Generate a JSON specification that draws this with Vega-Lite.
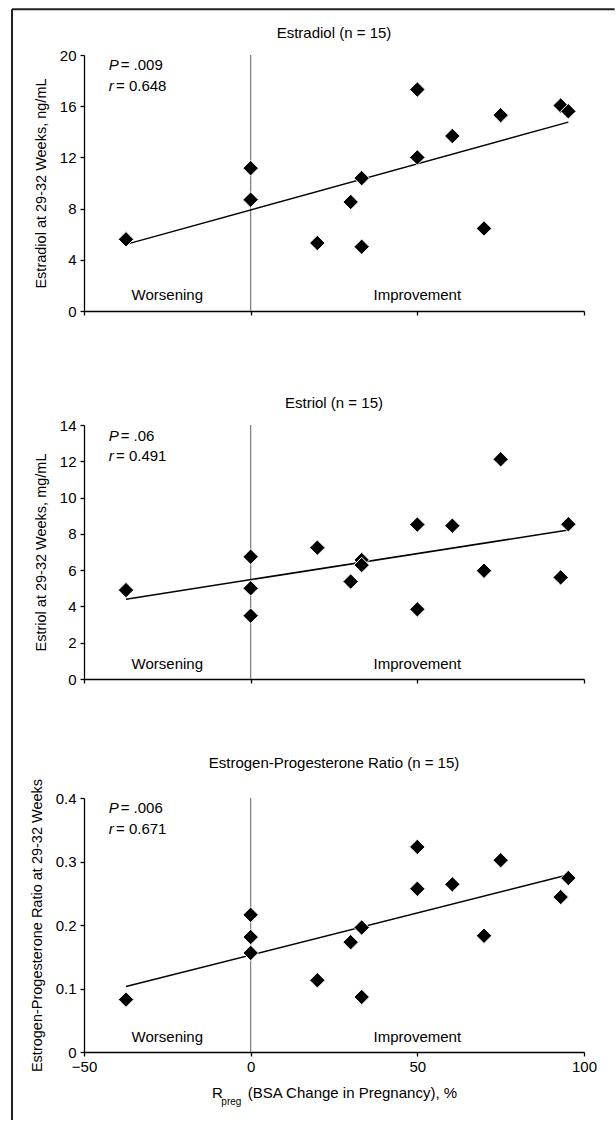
{
  "$schema": "https://vega.github.io/schema/vega-lite/v6.json",
  "background": "white",
  "padding": {"left": 11, "top": 8, "right": 0, "bottom": 0},
  "data": {"values": [
    {"rpreg": -37.4, "estradiol": 5.6, "estriol": 4.9, "ratio": 0.0825},
    {"rpreg": 0, "estradiol": 11.16, "estriol": 6.74, "ratio": 0.216},
    {"rpreg": 0, "estradiol": 8.63, "estriol": 5.0, "ratio": 0.181},
    {"rpreg": 0, "estradiol": 8.7, "estriol": 3.49, "ratio": 0.156},
    {"rpreg": 20, "estradiol": 5.31, "estriol": 7.24, "ratio": 0.113},
    {"rpreg": 30, "estradiol": 8.52, "estriol": 5.37, "ratio": 0.173},
    {"rpreg": 33.3, "estradiol": 10.38, "estriol": 6.56, "ratio": 0.196},
    {"rpreg": 33.3, "estradiol": 5.02, "estriol": 6.28, "ratio": 0.0866},
    {"rpreg": 50, "estradiol": 17.3, "estriol": 8.51, "ratio": 0.323},
    {"rpreg": 50, "estradiol": 12.0, "estriol": 3.84, "ratio": 0.257},
    {"rpreg": 60.5, "estradiol": 13.67, "estriol": 8.45, "ratio": 0.264},
    {"rpreg": 70, "estradiol": 6.45, "estriol": 5.97, "ratio": 0.183},
    {"rpreg": 75, "estradiol": 15.3, "estriol": 12.11, "ratio": 0.302},
    {"rpreg": 93, "estradiol": 16.05, "estriol": 5.6, "ratio": 0.244},
    {"rpreg": 95.3, "estradiol": 15.6, "estriol": 8.53, "ratio": 0.274}
  ]},
  "config": {
    "font": "Liberation Sans",
    "view": {"stroke": null},
    "axis": {
      "grid": false,
      "domainColor": "black", "domainWidth": 1.3,
      "tickColor": "black", "tickWidth": 1.3, "tickSize": 4,
      "labelColor": "black", "labelFont": "Liberation Sans", "labelFontSize": 15, "labelPadding": 4, "labelOverlap": false, "labelFlush": false,
      "titleColor": "black", "titleFont": "Liberation Sans", "titleFontSize": 14.5, "titleFontWeight": "normal", "titlePadding": 11
    },
    "title": {"fontSize": 15, "fontWeight": "normal", "color": "black", "font": "Liberation Sans", "baseline": "bottom", "offset": 7},
    "text": {"font": "Liberation Sans", "color": "black"}
  },
  "bounds": "flush",
  "spacing": 114,
  "vconcat": [
    {
      "width": 500, "height": 256,
      "layer": [
        {"mark": {"type": "rule", "color": "#222222", "strokeWidth": 2},
         "data": {"values": [{}]},
         "encoding": {"x": {"datum": -71.6, "type": "quantitative"}, "y": {"datum": 23.57, "type": "quantitative"}, "y2": {"datum": -63.2}}},
        {"mark": {"type": "rule", "color": "#222222", "strokeWidth": 2},
         "data": {"values": [{}]},
         "encoding": {"x": {"datum": -71.6, "type": "quantitative"}, "x2": {"datum": 109.2}, "y": {"datum": 23.57, "type": "quantitative"}}},
        {"mark": {"type": "text", "align": "center", "baseline": "middle", "fontSize": 15},
         "data": {"values": [{}]},
         "encoding": {"x": {"datum": 25, "type": "quantitative"}, "y": {"datum": 21.72, "type": "quantitative"}, "text": {"value": "Estradiol (n = 15)"}}},
        {"mark": {"type": "rule", "color": "#7a7a7a", "strokeWidth": 1.2},
         "data": {"values": [{}]},
         "encoding": {"x": {"datum": 0, "type": "quantitative"}}},
        {"mark": {"type": "line", "color": "black", "strokeWidth": 1.5},
         "transform": [{"regression": "estradiol", "on": "rpreg"}],
         "encoding": {"x": {"field": "rpreg", "type": "quantitative"}, "y": {"field": "estradiol", "type": "quantitative"}}},
        {"mark": {"type": "point", "shape": "diamond", "filled": true, "size": 240, "color": "black", "stroke": "white", "strokeWidth": 1, "opacity": 1},
         "encoding": {
           "x": {"field": "rpreg", "type": "quantitative", "scale": {"domain": [-50, 100], "nice": false, "zero": false},
                 "axis": {"values": [-50, 0, 50, 100], "labels": false, "title": null}},
           "y": {"field": "estradiol", "type": "quantitative", "scale": {"domain": [0, 20], "nice": false},
                 "axis": {"values": [0, 4, 8, 12, 16, 20], "format": "d", "labelOverlap": false, "title": "Estradiol at 29-32 Weeks, ng/mL"}}
         }},
        {"mark": {"type": "text", "align": "left", "baseline": "middle", "fontSize": 15, "fontStyle": "italic"},
         "data": {"values": [{}]},
         "encoding": {"x": {"datum": -42.6, "type": "quantitative"}, "y": {"datum": 19.18, "type": "quantitative"}, "text": {"value": "P"}}},
        {"mark": {"type": "text", "align": "left", "baseline": "middle", "fontSize": 15},
         "data": {"values": [{}]},
         "encoding": {"x": {"datum": -39.0, "type": "quantitative"}, "y": {"datum": 19.18, "type": "quantitative"}, "text": {"value": "= .009"}}},
        {"mark": {"type": "text", "align": "left", "baseline": "middle", "fontSize": 15, "fontStyle": "italic"},
         "data": {"values": [{}]},
         "encoding": {"x": {"datum": -42.6, "type": "quantitative"}, "y": {"datum": 17.58, "type": "quantitative"}, "text": {"value": "r"}}},
        {"mark": {"type": "text", "align": "left", "baseline": "middle", "fontSize": 15},
         "data": {"values": [{}]},
         "encoding": {"x": {"datum": -40.4, "type": "quantitative"}, "y": {"datum": 17.58, "type": "quantitative"}, "text": {"value": "= 0.648"}}},
        {"mark": {"type": "text", "align": "center", "baseline": "middle", "fontSize": 15},
         "data": {"values": [{}]},
         "encoding": {"x": {"datum": -25, "type": "quantitative"}, "y": {"datum": 1.25, "type": "quantitative"}, "text": {"value": "Worsening"}}},
        {"mark": {"type": "text", "align": "center", "baseline": "middle", "fontSize": 15},
         "data": {"values": [{}]},
         "encoding": {"x": {"datum": 50, "type": "quantitative"}, "y": {"datum": 1.25, "type": "quantitative"}, "text": {"value": "Improvement"}}}
      ]
    },
    {
      "bounds": "flush",
      "spacing": 119,
      "vconcat": [
        {
          "width": 500, "height": 254,
          "title": "Estriol (n = 15)",
          "layer": [
            {"mark": {"type": "rule", "color": "#7a7a7a", "strokeWidth": 1.2},
             "data": {"values": [{}]},
             "encoding": {"x": {"datum": 0, "type": "quantitative"}}},
            {"mark": {"type": "line", "color": "black", "strokeWidth": 1.5},
             "transform": [{"regression": "estriol", "on": "rpreg"}],
             "encoding": {"x": {"field": "rpreg", "type": "quantitative"}, "y": {"field": "estriol", "type": "quantitative"}}},
            {"mark": {"type": "point", "shape": "diamond", "filled": true, "size": 240, "color": "black", "stroke": "white", "strokeWidth": 1, "opacity": 1},
             "encoding": {
               "x": {"field": "rpreg", "type": "quantitative", "scale": {"domain": [-50, 100], "nice": false, "zero": false},
                     "axis": {"values": [-50, 0, 50, 100], "labels": false, "title": null}},
               "y": {"field": "estriol", "type": "quantitative", "scale": {"domain": [0, 14], "nice": false},
                     "axis": {"values": [0, 2, 4, 6, 8, 10, 12, 14], "format": "d", "labelOverlap": false, "tickCount": 8, "title": "Estriol at 29-32 Weeks, mg/mL"}}
             }},
            {"mark": {"type": "text", "align": "left", "baseline": "middle", "fontSize": 15, "fontStyle": "italic"},
             "data": {"values": [{}]},
             "encoding": {"x": {"datum": -42.6, "type": "quantitative"}, "y": {"datum": 13.42, "type": "quantitative"}, "text": {"value": "P"}}},
            {"mark": {"type": "text", "align": "left", "baseline": "middle", "fontSize": 15},
             "data": {"values": [{}]},
             "encoding": {"x": {"datum": -39.0, "type": "quantitative"}, "y": {"datum": 13.42, "type": "quantitative"}, "text": {"value": "= .06"}}},
            {"mark": {"type": "text", "align": "left", "baseline": "middle", "fontSize": 15, "fontStyle": "italic"},
             "data": {"values": [{}]},
             "encoding": {"x": {"datum": -42.6, "type": "quantitative"}, "y": {"datum": 12.29, "type": "quantitative"}, "text": {"value": "r"}}},
            {"mark": {"type": "text", "align": "left", "baseline": "middle", "fontSize": 15},
             "data": {"values": [{}]},
             "encoding": {"x": {"datum": -40.4, "type": "quantitative"}, "y": {"datum": 12.29, "type": "quantitative"}, "text": {"value": "= 0.491"}}},
            {"mark": {"type": "text", "align": "center", "baseline": "middle", "fontSize": 15},
             "data": {"values": [{}]},
             "encoding": {"x": {"datum": -25, "type": "quantitative"}, "y": {"datum": 0.85, "type": "quantitative"}, "text": {"value": "Worsening"}}},
            {"mark": {"type": "text", "align": "center", "baseline": "middle", "fontSize": 15},
             "data": {"values": [{}]},
             "encoding": {"x": {"datum": 50, "type": "quantitative"}, "y": {"datum": 0.85, "type": "quantitative"}, "text": {"value": "Improvement"}}}
          ]
        },
        {
          "width": 500, "height": 254,
          "title": "Estrogen-Progesterone Ratio (n = 15)",
          "layer": [
            {"mark": {"type": "rule", "color": "#7a7a7a", "strokeWidth": 1.2},
             "data": {"values": [{}]},
             "encoding": {"x": {"datum": 0, "type": "quantitative"}}},
            {"mark": {"type": "line", "color": "black", "strokeWidth": 1.5},
             "transform": [{"regression": "ratio", "on": "rpreg"}],
             "encoding": {"x": {"field": "rpreg", "type": "quantitative"}, "y": {"field": "ratio", "type": "quantitative"}}},
            {"mark": {"type": "point", "shape": "diamond", "filled": true, "size": 240, "color": "black", "stroke": "white", "strokeWidth": 1, "opacity": 1},
             "encoding": {
               "x": {"field": "rpreg", "type": "quantitative", "scale": {"domain": [-50, 100], "nice": false, "zero": false},
                     "axis": {"values": [-50, 0, 50, 100], "format": "d", "labelPadding": 3, "titlePadding": 11, "titleFontSize": 15,
                              "title": "R\u00a0\u00a0\u00a0\u00a0\u00a0\u00a0(BSA Change in Pregnancy), %"}},
               "y": {"field": "ratio", "type": "quantitative", "scale": {"domain": [0, 0.4], "nice": false},
                     "axis": {"values": [0, 0.1, 0.2, 0.3, 0.4], "format": "~g", "labelOverlap": false, "title": "Estrogen-Progesterone Ratio at 29-32 Weeks"}}
             }},
            {"mark": {"type": "text", "align": "left", "baseline": "middle", "fontSize": 15, "fontStyle": "italic"},
             "data": {"values": [{}]},
             "encoding": {"x": {"datum": -42.6, "type": "quantitative"}, "y": {"datum": 0.3835, "type": "quantitative"}, "text": {"value": "P"}}},
            {"mark": {"type": "text", "align": "left", "baseline": "middle", "fontSize": 15},
             "data": {"values": [{}]},
             "encoding": {"x": {"datum": -39.0, "type": "quantitative"}, "y": {"datum": 0.3835, "type": "quantitative"}, "text": {"value": "= .006"}}},
            {"mark": {"type": "text", "align": "left", "baseline": "middle", "fontSize": 15, "fontStyle": "italic"},
             "data": {"values": [{}]},
             "encoding": {"x": {"datum": -42.6, "type": "quantitative"}, "y": {"datum": 0.351, "type": "quantitative"}, "text": {"value": "r"}}},
            {"mark": {"type": "text", "align": "left", "baseline": "middle", "fontSize": 15},
             "data": {"values": [{}]},
             "encoding": {"x": {"datum": -40.4, "type": "quantitative"}, "y": {"datum": 0.351, "type": "quantitative"}, "text": {"value": "= 0.671"}}},
            {"mark": {"type": "text", "align": "center", "baseline": "middle", "fontSize": 15},
             "data": {"values": [{}]},
             "encoding": {"x": {"datum": -25, "type": "quantitative"}, "y": {"datum": 0.024, "type": "quantitative"}, "text": {"value": "Worsening"}}},
            {"mark": {"type": "text", "align": "center", "baseline": "middle", "fontSize": 15},
             "data": {"values": [{}]},
             "encoding": {"x": {"datum": 50, "type": "quantitative"}, "y": {"datum": 0.024, "type": "quantitative"}, "text": {"value": "Improvement"}}},
            {"mark": {"type": "text", "align": "left", "baseline": "middle", "fontSize": 10},
             "data": {"values": [{}]},
             "encoding": {"x": {"datum": -8.8, "type": "quantitative"}, "y": {"datum": -0.0783, "type": "quantitative"}, "text": {"value": "preg"}}}
          ]
        }
      ]
    }
  ]
}
